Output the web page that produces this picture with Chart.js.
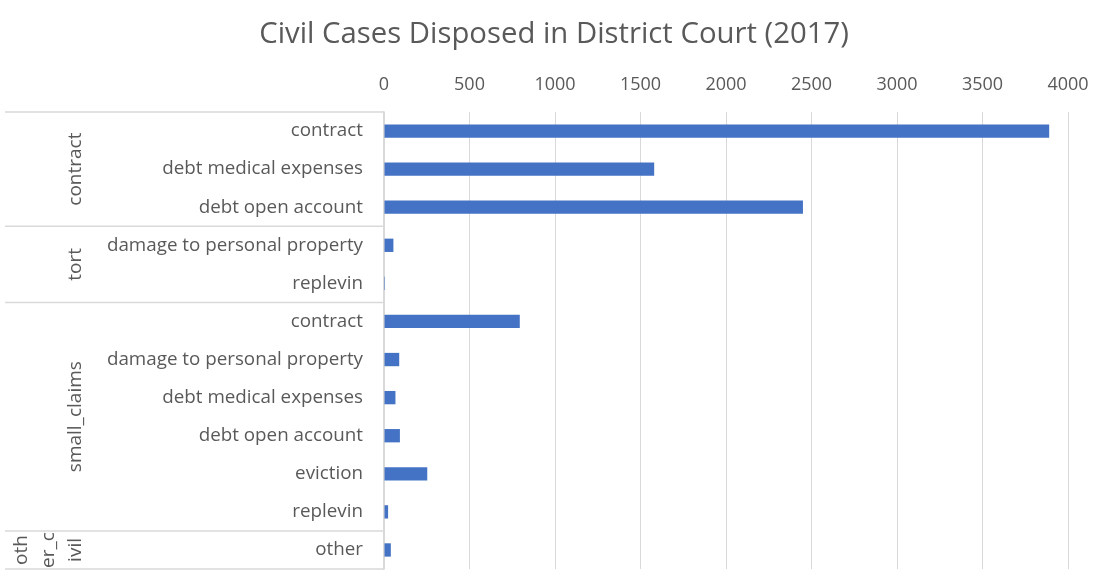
<!DOCTYPE html>
<html>
<head>
<meta charset="utf-8">
<script src="https://cdn.jsdelivr.net/npm/chart.js@4.4.0/dist/chart.umd.min.js"></script>
<style>
  body { margin: 0; background: #fff; }
  #wrap { width: 1108px; height: 578px; position: relative; }
</style>
</head>
<body>
<div id="wrap"><canvas id="myChart"></canvas></div>
<script>
// case types, grouped the way the spreadsheet groups them
var chartTitle = 'Civil Cases Disposed in District Court (2017)';
var groupSizes = [3, 2, 6, 1];
var groupLabels = [['contract'], ['tort'], ['small_claims'], ['oth', 'er_c', 'ivil']];
var categories = [
    'contract', 'debt medical expenses', 'debt open account',
    'damage to personal property', 'replevin',
    'contract', 'damage to personal property', 'debt medical expenses',
    'debt open account', 'eviction', 'replevin',
    'other'
];
var disposed = [3890, 1580, 2450, 55, 6, 794, 89, 67, 93, 253, 24, 40];
var xMax = 4000;
var xStep = 500;

var textColor = '#595959';
var lineColor = '#d9d9d9';

Chart.defaults.font.family = "'Open Sans', sans-serif";
Chart.defaults.color = textColor;

// title centred on the whole canvas, plus the outer level of the
// category axis (group names + divider lines)
var groupAxis = {
    id: 'groupAxis',
    afterDraw: function(chart) {
        var ctx = chart.ctx;
        var y = chart.scales.y;
        var area = chart.chartArea;
        var half = (y.getPixelForValue(1) - y.getPixelForValue(0)) / 2;
        var start = 0;

        ctx.save();
        ctx.fillStyle = textColor;
        ctx.textAlign = 'center';
        ctx.textBaseline = 'middle';
        ctx.font = "29.3px 'Open Sans', sans-serif";
        ctx.fillText(chartTitle, chart.width / 2, 35);

        ctx.strokeStyle = lineColor;
        ctx.lineWidth = 1.5;
        ctx.font = "19px 'Open Sans', sans-serif";

        groupSizes.forEach(function(n, g) {
            var top = y.getPixelForValue(start) - half;
            var bottom = y.getPixelForValue(start + n - 1) + half;

            ctx.beginPath();
            ctx.moveTo(5, top);
            ctx.lineTo(area.left, top);
            ctx.stroke();

            var lines = groupLabels[g];
            lines.forEach(function(txt, i) {
                var x = 76 - (lines.length - 1 - i) * 27;
                ctx.save();
                ctx.translate(x, (top + bottom) / 2);
                ctx.rotate(-Math.PI / 2);
                ctx.fillText(txt, 0, 0);
                ctx.restore();
            });

            if (g === groupSizes.length - 1) {
                ctx.beginPath();
                ctx.moveTo(5, bottom);
                ctx.lineTo(area.left, bottom);
                ctx.stroke();
            }
            start += n;
        });
        ctx.restore();
    }
};

var ctx = document.getElementById('myChart').getContext('2d');
var myChart = new Chart(ctx, {
    type: 'bar',
    data: {
        labels: categories,
        datasets: [{
            label: 'Cases',
            data: disposed,
            backgroundColor: '#4472C4',
            borderWidth: 0,
            barPercentage: 0.35,
            categoryPercentage: 1
        }]
    },
    options: {
        indexAxis: 'y',
        responsive: true,
        maintainAspectRatio: false,
        animation: false,
        layout: {
            padding: { left: 5, right: 40, top: 56, bottom: 9 }
        },
        plugins: {
            legend: { display: false },
            tooltip: { enabled: false },
            title: { display: false }
        },
        scales: {
            x: {
                position: 'top',
                min: 0,
                max: xMax,
                ticks: {
                    stepSize: xStep,
                    padding: 16,
                    font: { size: 18 },
                    callback: function(v) { return String(v); }
                },
                grid: { color: lineColor, drawTicks: false },
                border: { display: false },
                afterFit: function(scale) { scale.height = 56; }
            },
            y: {
                ticks: {
                    padding: 21,
                    font: { size: 18.8 },
                    autoSkip: false
                },
                grid: { display: false, drawTicks: false },
                border: { display: true, color: lineColor, width: 1.5 },
                afterFit: function(scale) {
                    scale.width = 379;
                    scale.paddingTop = 0;
                    scale.paddingBottom = 0;
                }
            }
        }
    },
    plugins: [groupAxis]
});
</script>
</body>
</html>
